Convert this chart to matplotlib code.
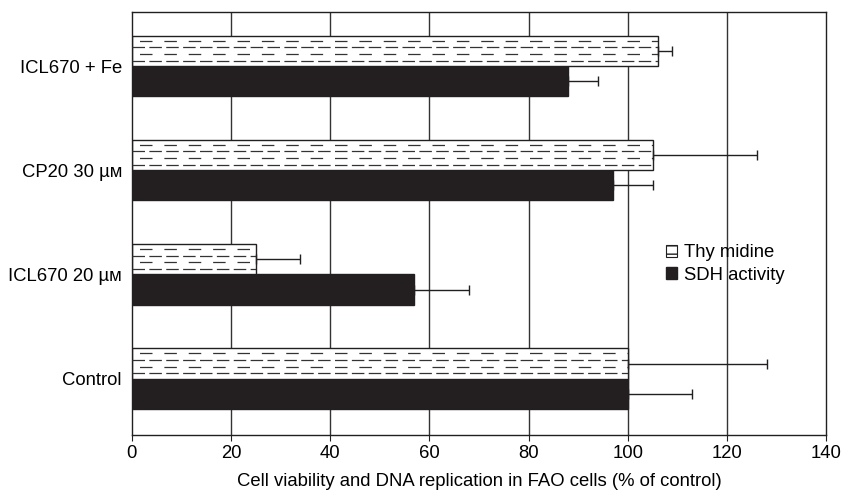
import matplotlib.pyplot as plt
from matplotlib.patches import Patch
import numpy as np

plt.rcParams['font.family'] = ['Liberation Sans', 'DejaVu Sans']

groups = ['Control', 'ICL670 20 µᴍ', 'CP20 30 µᴍ', 'ICL670 + Fe']
thy = [100, 25, 105, 106]
thy_err = [28, 9, 21, 3]
sdh = [100, 57, 97, 88]
sdh_err = [13, 11, 8, 6]

fig = plt.figure(figsize=(8.44, 4.92), dpi=100)
ax = fig.add_axes([0.156, 0.116, 0.823, 0.86])

y = np.arange(len(groups))
h = 0.29

for gx in range(20, 140, 20):
    ax.axvline(gx, color='#333333', lw=1, zorder=0)

sdh_bars = ax.barh(y - h / 2, sdh, height=h, color='#231f20', edgecolor='#231f20', zorder=2)
thy_bars = ax.barh(y + h / 2, thy, height=h, color='white', edgecolor='#231f20', lw=1, zorder=2)

# dashed horizontal fill inside the Thymidine bars
for b in thy_bars:
    y0, bh, w = b.get_y(), b.get_height(), b.get_width()
    for k, frac in enumerate([0.18, 0.4, 0.62, 0.84]):
        ln = ax.plot([0, w], [y0 + frac * bh] * 2, color='#333333', lw=0.9,
                     zorder=3)[0]
        if k % 2 == 0:
            ln.set_dashes((10, 3.5))
        else:
            ln.set_dashes((0, 6, 10, 3.5))
        ln.set_clip_path(b)

ax.errorbar(thy, y + h / 2, xerr=[np.zeros(4), thy_err], fmt='none',
            ecolor='#231f20', elinewidth=1, capsize=3.5, capthick=1, zorder=4)
ax.errorbar(sdh, y - h / 2, xerr=[np.zeros(4), sdh_err], fmt='none',
            ecolor='#231f20', elinewidth=1, capsize=3.5, capthick=1, zorder=4)

ax.set_xlim(0, 140)
ax.set_ylim(-0.54, 3.52)
ax.set_xticks(range(0, 141, 20))
ax.set_yticks(y)
ax.set_yticklabels(groups, fontsize=13.3)
ax.tick_params(axis='x', labelsize=13.3, length=4, direction='out', color='#231f20')
ax.tick_params(axis='y', length=0, pad=7)
for s in ax.spines.values():
    s.set_color('#231f20')
    s.set_linewidth(1)

ax.set_xlabel('Cell viability and DNA replication in FAO cells (% of control)',
              fontsize=13.3, labelpad=8)

handles = [Patch(facecolor='white', edgecolor='#231f20', hatch='--', lw=0.8),
           Patch(facecolor='#231f20', edgecolor='#231f20')]
ax.legend(handles, ['Thy midine', 'SDH activity'], loc='upper left',
          bbox_to_anchor=(0.745, 0.49), frameon=False, fontsize=13.3,
          handlelength=0.6, handleheight=0.6, handletextpad=0.4, labelspacing=0.3)

fig.savefig('out.png', dpi=100)
